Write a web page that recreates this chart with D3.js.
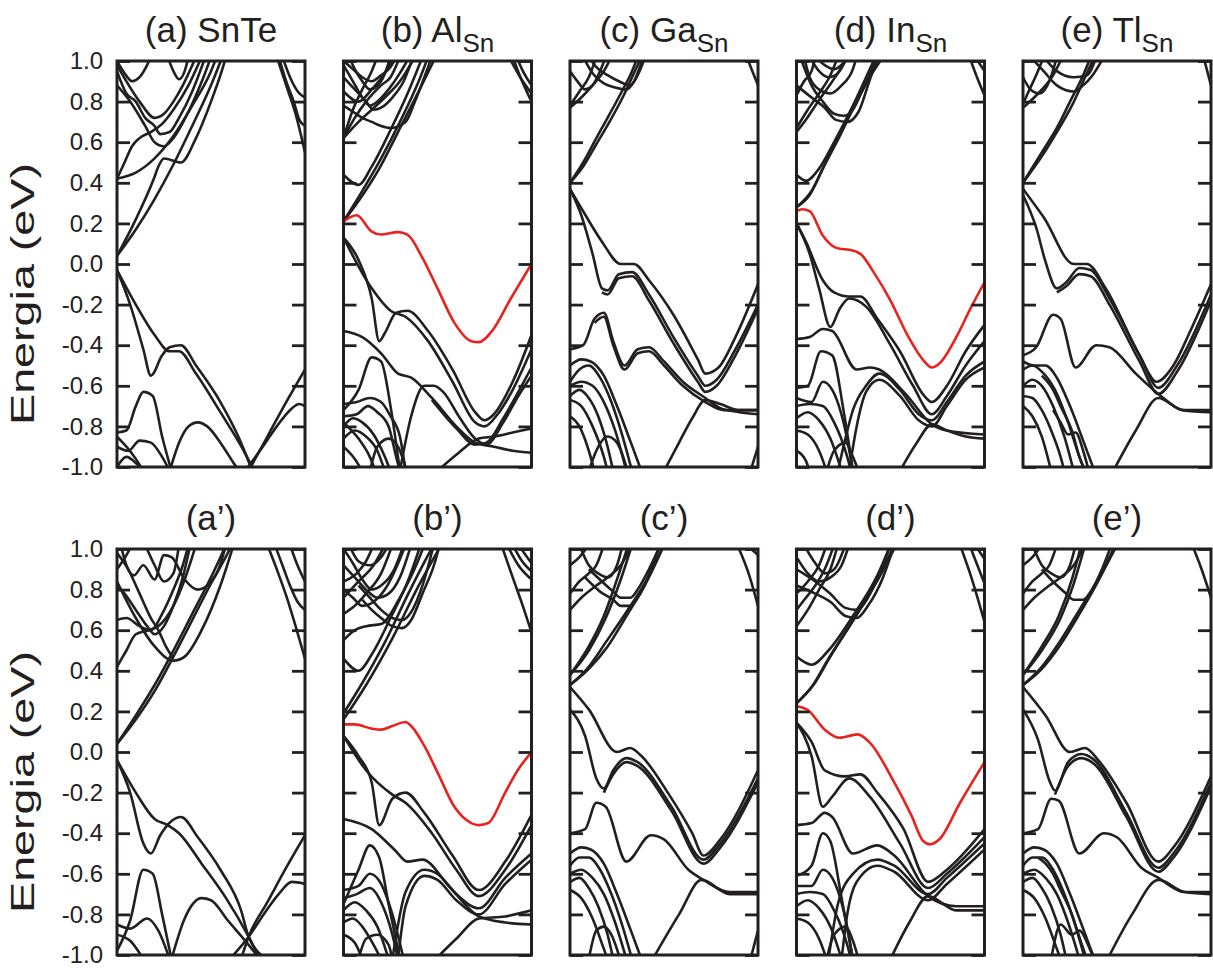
<!DOCTYPE html>
<html>
<head>
<meta charset="utf-8">
<script src="https://cdn.jsdelivr.net/npm/d3@7/dist/d3.min.js"></script>
<style>
  body { margin: 0; background: #fff; }
  text { font-family: "Liberation Sans", Arial, Helvetica, sans-serif; fill: #231f20; }
</style>
</head>
<body>
<div id="viz"></div>
<script>
// energy axis
const yTicks = [-1, -0.8, -0.6, -0.4, -0.2, 0, 0.2, 0.4, 0.6, 0.8, 1];
const yTickLabels = ['-1.0', '-0.8', '-0.6', '-0.4', '-0.2', '0.0', '0.2', '0.4', '0.6', '0.8', '1.0'];
const yLabel = 'Energia (eV)';

const titles = ['(a) ', '(b) ', '(c) ', '(d) ', '(e) ', '(a\u2019)', '(b\u2019)', '(c\u2019)', '(d\u2019)', '(e\u2019)'];
const titleMain = ['SnTe', 'Al', 'Ga', 'In', 'Tl', '', '', '', '', ''];
const titleSub = ['', 'Sn', 'Sn', 'Sn', 'Sn', '', '', '', '', ''];

// bands: each band is a list of [k, E] (k from 0 to 1 along the path, E in eV)
const bandsA = [
  [[0,0.04],[0.1,0.22],[0.2,0.43],[0.22,0.48],[0.25,0.52],[0.34,0.5],[0.42,0.62],[0.5,0.8],[0.55,0.93],[0.58,1.02]],
  [[0,0.04],[0.1,0.17],[0.2,0.32],[0.3,0.49],[0.4,0.68],[0.5,0.88],[0.56,1.02]],
  [[0,0.42],[0.1,0.45],[0.2,0.52],[0.3,0.63],[0.4,0.78],[0.5,0.95],[0.53,1.02]],
  [[0,0.42],[0.04,0.5],[0.08,0.58],[0.12,0.62],[0.18,0.65],[0.24,0.69],[0.3,0.76],[0.38,0.88],[0.45,1.02]],
  [[0,0.98],[0.05,0.9],[0.12,0.8],[0.2,0.72],[0.25,0.74],[0.3,0.8],[0.35,0.88],[0.42,1.02]],
  [[0,0.88],[0.07,0.8],[0.15,0.68],[0.2,0.6],[0.25,0.58],[0.3,0.62],[0.38,0.75],[0.46,0.92],[0.5,1.02]],
  [[0,0.95],[0.05,0.84],[0.1,0.8],[0.15,0.72],[0.2,0.68],[0.23,0.64],[0.28,0.65],[0.33,0.72],[0.4,0.85],[0.47,1.02]],
  [[0,1.0],[0.04,0.94],[0.08,0.9],[0.12,0.92],[0.16,0.98],[0.18,1.02]],
  [[0.27,1.02],[0.3,0.95],[0.33,0.91],[0.36,0.95],[0.38,1.02]],
  [[0.85,1.02],[0.9,0.88],[0.95,0.74],[1,0.55]],
  [[0.86,1.02],[0.9,0.9],[0.94,0.8],[0.97,0.71],[1,0.68]],
  [[0.88,1.02],[0.93,0.9],[0.97,0.84],[1,0.82]],
  [[0,-0.03],[0.07,-0.2],[0.14,-0.42],[0.18,-0.55],[0.24,-0.45],[0.28,-0.41],[0.34,-0.4],[0.42,-0.5],[0.55,-0.68],[0.65,-0.86],[0.72,-1.02]],
  [[0,-0.03],[0.1,-0.2],[0.2,-0.35],[0.28,-0.43],[0.33,-0.43],[0.42,-0.54],[0.55,-0.73],[0.68,-0.93],[0.73,-1.02]],
  [[0.7,-1.02],[0.8,-0.85],[0.9,-0.68],[1,-0.52]],
  [[0.68,-1.02],[0.76,-0.92],[0.85,-0.8],[0.92,-0.72],[0.97,-0.69],[1,-0.7]],
  [[0.28,-1.02],[0.33,-0.88],[0.38,-0.8],[0.43,-0.78],[0.48,-0.8],[0.55,-0.88],[0.62,-0.98],[0.65,-1.02]],
  [[0,-0.83],[0.05,-0.82],[0.1,-0.7],[0.14,-0.63],[0.19,-0.65],[0.24,-0.85],[0.29,-1.02]],
  [[0,-0.9],[0.06,-0.92],[0.12,-0.87],[0.18,-0.88],[0.24,-0.95],[0.28,-1.02]],
  [[0,-1.0],[0.05,-0.95],[0.1,-0.98],[0.14,-1.02]],
  [[0,-0.85],[0.05,-0.9],[0.1,-0.96],[0.14,-1.02]]
];

const bandsB = [
  [[0,0.21],[0.08,0.31],[0.19,0.47],[0.29,0.65],[0.4,0.85],[0.49,1.02]],
  [[0,0.21],[0.1,0.36],[0.2,0.52],[0.3,0.7],[0.4,0.9],[0.45,1.02]],
  [[0,0.44],[0.08,0.39],[0.15,0.48],[0.25,0.66],[0.35,0.86],[0.42,1.02]],
  [[0,0.62],[0.08,0.7],[0.15,0.76],[0.22,0.82],[0.3,0.9],[0.38,1.02]],
  [[0,0.62],[0.06,0.72],[0.12,0.8],[0.2,0.88],[0.25,0.92],[0.3,1.02]],
  [[0,0.62],[0.05,0.76],[0.1,0.86],[0.15,0.95],[0.18,1.02]],
  [[0,0.98],[0.05,0.9],[0.1,0.82],[0.14,0.78],[0.18,0.8],[0.24,0.86],[0.3,0.94],[0.35,1.02]],
  [[0,0.92],[0.06,0.86],[0.12,0.8],[0.16,0.76],[0.2,0.77],[0.26,0.82],[0.32,0.9],[0.37,1.02]],
  [[0,0.78],[0.05,0.75],[0.1,0.72],[0.15,0.7],[0.2,0.68],[0.25,0.67],[0.33,0.7],[0.38,0.8],[0.43,0.92],[0.47,1.02]],
  [[0,1.0],[0.05,0.96],[0.1,0.92],[0.15,0.9],[0.2,0.93],[0.25,0.97],[0.28,1.02]],
  [[0,0.85],[0.08,0.8],[0.15,0.86],[0.22,0.94],[0.27,1.02]],
  [[0.03,1.02],[0.06,0.96],[0.1,0.9],[0.14,0.86],[0.2,0.9],[0.25,1.02]],
  [[0.9,1.02],[0.95,0.9],[1,0.8]],
  [[0.92,1.02],[0.96,0.94],[1,0.88]],
  [[0.88,1.02],[0.94,0.92],[1,0.84]],
  [[0,0.13],[0.08,0.02],[0.15,-0.17],[0.19,-0.38],[0.22,-0.34],[0.28,-0.24],[0.34,-0.23],[0.45,-0.33],[0.58,-0.52],[0.7,-0.73],[0.75,-0.77],[0.8,-0.74],[0.9,-0.58],[1,-0.35]],
  [[0,0.13],[0.15,-0.12],[0.25,-0.23],[0.33,-0.26],[0.45,-0.38],[0.58,-0.58],[0.7,-0.78],[0.75,-0.8],[0.82,-0.74],[0.9,-0.62],[1,-0.42]],
  [[0,-0.33],[0.1,-0.36],[0.2,-0.44],[0.29,-0.54],[0.36,-0.56],[0.47,-0.66],[0.6,-0.8],[0.7,-0.88],[0.8,-0.9],[0.9,-0.92],[1,-0.93]],
  [[0.47,-0.67],[0.6,-0.81],[0.7,-0.89],[0.76,-0.88],[0.85,-0.76],[0.93,-0.63],[1,-0.51]],
  [[0.3,-1.02],[0.36,-0.75],[0.43,-0.6],[0.48,-0.6],[0.53,-0.63],[0.62,-0.76],[0.7,-0.86],[0.76,-0.89],[0.85,-0.78],[0.93,-0.65],[1,-0.55]],
  [[0.5,-1.02],[0.6,-0.94],[0.72,-0.86],[0.8,-0.85],[0.9,-0.83],[1,-0.81]],
  [[0,-0.72],[0.08,-0.62],[0.15,-0.46],[0.2,-0.48],[0.25,-0.7],[0.3,-1.02]],
  [[0,-0.69],[0.07,-0.68],[0.14,-0.66],[0.2,-0.68],[0.25,-0.75],[0.3,-0.85],[0.33,-1.02]],
  [[0,-0.75],[0.07,-0.74],[0.13,-0.7],[0.18,-0.73],[0.24,-0.8],[0.28,-0.95],[0.3,-1.02]],
  [[0,-0.8],[0.05,-0.76],[0.1,-0.78],[0.16,-0.84],[0.22,-0.95],[0.25,-1.02]],
  [[0,-0.86],[0.06,-0.82],[0.12,-0.85],[0.18,-0.92],[0.22,-1.02]],
  [[0,-0.9],[0.06,-0.96],[0.1,-1.02]],
  [[0,-0.78],[0.08,-0.86],[0.14,-0.95],[0.17,-1.02]],
  [[0.14,-1.02],[0.18,-0.9],[0.24,-0.86],[0.29,-0.9],[0.33,-1.0]]
];
const redB = [[0,0.21],[0.07,0.24],[0.15,0.16],[0.2,0.145],[0.29,0.157],[0.34,0.145],[0.42,0.03],[0.5,-0.12],[0.59,-0.29],[0.68,-0.38],[0.72,-0.385],[0.79,-0.33],[0.89,-0.17],[1,0]];

const bandsC = [
  [[0,0.4],[0.07,0.5],[0.14,0.62],[0.2,0.72],[0.27,0.84],[0.33,0.95],[0.36,1.02]],
  [[0,0.4],[0.07,0.48],[0.14,0.59],[0.21,0.7],[0.28,0.82],[0.34,0.94],[0.38,1.02]],
  [[0,0.77],[0.06,0.82],[0.12,0.88],[0.18,0.95],[0.22,1.02]],
  [[0,0.78],[0.05,0.85],[0.1,0.92],[0.14,1.02]],
  [[0.07,1.02],[0.12,0.94],[0.18,0.89],[0.24,0.87],[0.3,0.86],[0.34,0.9],[0.39,1.02]],
  [[0.1,1.02],[0.14,0.97],[0.2,0.93],[0.26,0.9],[0.32,0.88],[0.36,0.93],[0.4,1.02]],
  [[0,0.95],[0.04,0.9],[0.08,0.86],[0.12,0.88],[0.16,0.95],[0.19,1.02]],
  [[0.94,1.02],[0.97,0.95],[1,0.88]],
  [[0,0.37],[0.07,0.26],[0.17,0.11],[0.27,0],[0.34,0],[0.42,-0.08],[0.55,-0.25],[0.68,-0.47],[0.72,-0.54],[0.79,-0.51],[0.88,-0.36],[1,-0.1]],
  [[0,0.37],[0.06,0.24],[0.12,0.05],[0.17,-0.12],[0.2,-0.13],[0.26,-0.05],[0.33,-0.04],[0.42,-0.15],[0.55,-0.36],[0.68,-0.55],[0.72,-0.6],[0.78,-0.57],[0.88,-0.42],[1,-0.2]],
  [[0.17,-0.14],[0.2,-0.15],[0.26,-0.07],[0.33,-0.06],[0.42,-0.18],[0.55,-0.39],[0.68,-0.58],[0.72,-0.63],[0.78,-0.6],[0.88,-0.45],[1,-0.22]],
  [[0,-0.42],[0.07,-0.4],[0.13,-0.27],[0.18,-0.24],[0.23,-0.38],[0.29,-0.5],[0.36,-0.42],[0.42,-0.41],[0.5,-0.48],[0.6,-0.58],[0.72,-0.66],[0.8,-0.71],[0.9,-0.73],[1,-0.74]],
  [[0.13,-0.29],[0.18,-0.26],[0.23,-0.4],[0.29,-0.52],[0.36,-0.44],[0.42,-0.43],[0.5,-0.5],[0.6,-0.6],[0.72,-0.68],[0.82,-0.72],[1,-0.72]],
  [[0.5,-1.02],[0.58,-0.88],[0.65,-0.76],[0.72,-0.67],[0.8,-0.69],[0.9,-0.72],[1,-0.72]],
  [[0,-0.5],[0.06,-0.47],[0.11,-0.48],[0.18,-0.55],[0.25,-0.7],[0.32,-0.87],[0.38,-1.02]],
  [[0,-0.58],[0.05,-0.52],[0.1,-0.5],[0.16,-0.56],[0.22,-0.68],[0.28,-0.85],[0.33,-1.02]],
  [[0,-0.6],[0.06,-0.58],[0.12,-0.6],[0.18,-0.68],[0.24,-0.82],[0.3,-1.02]],
  [[0,-0.65],[0.05,-0.62],[0.1,-0.66],[0.15,-0.75],[0.2,-0.9],[0.23,-1.02]],
  [[0,-0.67],[0.06,-0.7],[0.12,-0.8],[0.18,-0.95],[0.2,-1.02]],
  [[0,-0.75],[0.05,-0.8],[0.1,-0.92],[0.13,-1.02]],
  [[0.1,-1.02],[0.14,-0.92],[0.2,-0.85],[0.25,-0.88],[0.3,-1.0]],
  [[0.96,-1.02],[1,-0.9]]
];

const bandsD = [
  [[0,0.28],[0.07,0.34],[0.14,0.47],[0.23,0.63],[0.32,0.8],[0.41,0.95],[0.46,1.02]],
  [[0,0.28],[0.08,0.36],[0.15,0.49],[0.24,0.66],[0.33,0.82],[0.44,1.02]],
  [[0,0.44],[0.05,0.41],[0.12,0.47],[0.2,0.6],[0.3,0.78],[0.4,0.98],[0.42,1.02]],
  [[0.02,1.02],[0.08,0.88],[0.14,0.8],[0.2,0.74],[0.25,0.73],[0.3,0.76],[0.36,0.88],[0.42,1.02]],
  [[0,0.88],[0.08,0.82],[0.15,0.77],[0.21,0.71],[0.27,0.7],[0.33,0.75],[0.38,0.88],[0.43,1.02]],
  [[0,0.65],[0.05,0.71],[0.1,0.78],[0.16,0.86],[0.22,0.94],[0.27,1.02]],
  [[0,0.67],[0.06,0.76],[0.12,0.84],[0.18,0.93],[0.22,1.02]],
  [[0,0.83],[0.04,0.9],[0.08,0.95],[0.1,1.02]],
  [[0.04,1.02],[0.07,0.92],[0.12,0.86],[0.18,0.84],[0.24,0.88],[0.3,0.96],[0.32,1.02]],
  [[0.07,1.02],[0.12,0.95],[0.17,0.92],[0.22,0.94],[0.27,1.02]],
  [[0.1,1.02],[0.15,0.98],[0.2,0.96],[0.26,1.0]],
  [[0.92,1.02],[0.96,0.92],[1,0.83]],
  [[0.95,1.02],[1,0.95]],
  [[0,0.2],[0.05,0.11],[0.14,-0.08],[0.2,-0.14],[0.28,-0.16],[0.34,-0.16],[0.43,-0.27],[0.55,-0.43],[0.68,-0.65],[0.72,-0.68],[0.8,-0.6],[0.9,-0.43],[1,-0.3]],
  [[0,0.2],[0.07,0.05],[0.12,-0.12],[0.18,-0.31],[0.23,-0.22],[0.28,-0.17],[0.37,-0.21],[0.5,-0.4],[0.62,-0.6],[0.72,-0.74],[0.8,-0.65],[0.9,-0.5],[1,-0.38]],
  [[0,-0.37],[0.07,-0.36],[0.14,-0.32],[0.19,-0.33],[0.32,-0.52],[0.39,-0.51],[0.44,-0.52],[0.58,-0.64],[0.72,-0.79],[0.8,-0.82],[1,-0.84]],
  [[0.22,-1.02],[0.26,-0.86],[0.3,-0.72],[0.37,-0.6],[0.44,-0.54],[0.55,-0.62],[0.65,-0.74],[0.72,-0.77],[0.8,-0.68],[0.9,-0.55],[1,-0.48]],
  [[0.28,-1.02],[0.32,-0.8],[0.37,-0.63],[0.44,-0.57],[0.55,-0.65],[0.65,-0.77],[0.72,-0.8],[0.8,-0.7],[0.9,-0.57],[1,-0.51]],
  [[0.55,-1.02],[0.64,-0.88],[0.72,-0.79],[0.8,-0.82],[0.9,-0.85],[1,-0.86]],
  [[0,-0.61],[0.06,-0.6],[0.13,-0.43],[0.19,-0.45],[0.25,-0.72],[0.3,-1.02]],
  [[0,-0.66],[0.08,-0.68],[0.14,-0.58],[0.19,-0.62],[0.26,-0.82],[0.3,-1.02]],
  [[0,-0.7],[0.07,-0.69],[0.14,-0.7],[0.2,-0.78],[0.27,-0.95],[0.29,-1.02]],
  [[0,-0.76],[0.06,-0.73],[0.12,-0.77],[0.18,-0.86],[0.24,-1.02]],
  [[0,-0.82],[0.06,-0.84],[0.12,-0.92],[0.16,-1.02]],
  [[0,-0.92],[0.05,-0.97],[0.07,-1.02]],
  [[0.16,-1.02],[0.2,-0.92],[0.26,-0.88],[0.3,-0.95],[0.33,-1.02]]
];
const redD = [[0,0.26],[0.03,0.27],[0.07,0.26],[0.14,0.14],[0.19,0.09],[0.23,0.075],[0.28,0.07],[0.34,0.05],[0.41,-0.04],[0.5,-0.18],[0.59,-0.35],[0.68,-0.48],[0.72,-0.51],[0.76,-0.49],[0.85,-0.36],[0.925,-0.22],[1,-0.09]];

const bandsE = [
  [[0,0.4],[0.1,0.55],[0.18,0.67],[0.25,0.8],[0.32,0.93],[0.36,1.02]],
  [[0,0.4],[0.1,0.53],[0.18,0.65],[0.26,0.78],[0.33,0.92],[0.38,1.02]],
  [[0,0.77],[0.07,0.83],[0.16,0.93],[0.21,1.02]],
  [[0,0.79],[0.04,0.87],[0.07,0.93],[0.11,1.02]],
  [[0.04,1.02],[0.11,0.95],[0.18,0.88],[0.27,0.85],[0.32,0.88],[0.37,0.93],[0.43,1.02]],
  [[0.11,1.02],[0.18,0.95],[0.27,0.92],[0.34,0.93],[0.39,1.02]],
  [[0,0.92],[0.04,0.86],[0.09,0.84],[0.14,0.9],[0.18,1.02]],
  [[0.96,1.02],[1,0.88]],
  [[0,0.37],[0.11,0.23],[0.27,0],[0.34,0],[0.44,-0.12],[0.62,-0.45],[0.71,-0.58],[0.8,-0.5],[0.89,-0.33],[1,-0.1]],
  [[0,0.34],[0.07,0.18],[0.12,0.01],[0.18,-0.12],[0.23,-0.09],[0.3,-0.02],[0.36,-0.03],[0.46,-0.17],[0.62,-0.45],[0.72,-0.61],[0.82,-0.5],[1,-0.15]],
  [[0.18,-0.14],[0.23,-0.11],[0.3,-0.05],[0.36,-0.06],[0.46,-0.2],[0.62,-0.48],[0.72,-0.64],[0.82,-0.53],[1,-0.18]],
  [[0,-0.45],[0.07,-0.41],[0.16,-0.25],[0.2,-0.27],[0.28,-0.51],[0.39,-0.4],[0.46,-0.41],[0.6,-0.54],[0.72,-0.64],[0.85,-0.72],[1,-0.73]],
  [[0.48,-1.02],[0.6,-0.82],[0.72,-0.66],[0.85,-0.72],[1,-0.72]],
  [[0,-0.48],[0.06,-0.5],[0.12,-0.5],[0.18,-0.56],[0.25,-0.7],[0.32,-0.87],[0.38,-1.02]],
  [[0,-0.52],[0.05,-0.5],[0.1,-0.53],[0.17,-0.62],[0.24,-0.78],[0.3,-0.95],[0.33,-1.02]],
  [[0,-0.6],[0.05,-0.57],[0.1,-0.6],[0.16,-0.7],[0.22,-0.85],[0.27,-1.02]],
  [[0,-0.65],[0.05,-0.66],[0.1,-0.72],[0.15,-0.82],[0.2,-0.95],[0.22,-1.02]],
  [[0,-0.7],[0.05,-0.75],[0.1,-0.85],[0.15,-1.02]],
  [[0.1,-0.55],[0.16,-0.62],[0.2,-0.7],[0.26,-0.82],[0.3,-0.95],[0.33,-1.02]],
  [[0.16,-0.72],[0.2,-0.78],[0.24,-0.84],[0.28,-0.83],[0.32,-0.92],[0.35,-1.02]]
];

const bandsA2 = [
  [[0,0.04],[0.1,0.16],[0.2,0.3],[0.3,0.47],[0.4,0.65],[0.5,0.83],[0.6,1.0],[0.61,1.02]],
  [[0,0.04],[0.1,0.18],[0.2,0.33],[0.3,0.5],[0.4,0.68],[0.5,0.86],[0.58,1.02]],
  [[0,0.84],[0.1,0.66],[0.2,0.52],[0.3,0.45],[0.36,0.47],[0.45,0.6],[0.55,0.82],[0.62,1.02]],
  [[0,0.42],[0.05,0.5],[0.1,0.58],[0.17,0.6],[0.22,0.62],[0.3,0.72],[0.36,0.85],[0.42,1.02]],
  [[0,0.65],[0.05,0.66],[0.12,0.62],[0.18,0.6],[0.24,0.68],[0.3,0.8],[0.35,0.92],[0.38,1.02]],
  [[0.02,1.02],[0.05,0.92],[0.09,0.87],[0.14,0.92],[0.2,0.85],[0.25,0.97],[0.29,0.96],[0.36,0.85],[0.43,0.8],[0.48,0.82],[0.54,0.9],[0.58,1.02]],
  [[0,0.82],[0.04,0.78],[0.1,0.7],[0.16,0.62],[0.2,0.58],[0.25,0.62],[0.3,0.72],[0.35,0.86],[0.39,1.02]],
  [[0,0.98],[0.06,0.9],[0.12,0.78],[0.18,0.66],[0.22,0.6],[0.26,0.52],[0.3,0.46]],
  [[0,0.9],[0.05,0.97],[0.08,1.02]],
  [[0.15,1.02],[0.2,0.92],[0.25,0.84],[0.3,0.88],[0.33,1.02]],
  [[0.8,1.02],[0.85,0.9],[0.9,0.77],[0.95,0.62],[1,0.46]],
  [[0.84,1.02],[0.88,0.92],[0.92,0.82],[0.96,0.74],[1,0.7]],
  [[0.92,1.02],[0.96,0.92],[1,0.84]],
  [[0,-0.04],[0.07,-0.2],[0.14,-0.45],[0.18,-0.5],[0.23,-0.41],[0.29,-0.34],[0.34,-0.32],[0.43,-0.42],[0.55,-0.58],[0.66,-0.78],[0.7,-0.91],[0.8,-1.02]],
  [[0,-0.04],[0.1,-0.2],[0.2,-0.33],[0.27,-0.36],[0.33,-0.4],[0.45,-0.55],[0.58,-0.72],[0.7,-0.91],[0.76,-1.02]],
  [[0.66,-1.02],[0.7,-0.91],[0.8,-0.74],[0.9,-0.57],[1,-0.41]],
  [[0.6,-1.02],[0.7,-0.91],[0.78,-0.8],[0.86,-0.7],[0.93,-0.64],[1,-0.65]],
  [[0.29,-1.02],[0.36,-0.82],[0.45,-0.72],[0.5,-0.73],[0.59,-0.83],[0.7,-0.95],[0.76,-1.02]],
  [[0,-0.98],[0.07,-0.83],[0.14,-0.58],[0.19,-0.6],[0.24,-0.8],[0.29,-1.02]],
  [[0,-0.85],[0.07,-0.87],[0.16,-0.82],[0.22,-0.88],[0.28,-1.02]],
  [[0,-0.9],[0.07,-0.93],[0.14,-1.02]]
];

const bandsB2 = [
  [[0,0.16],[0.12,0.33],[0.26,0.56],[0.4,0.82],[0.52,1.02]],
  [[0,0.19],[0.1,0.34],[0.22,0.54],[0.35,0.79],[0.45,0.97],[0.48,1.02]],
  [[0,0.46],[0.08,0.4],[0.15,0.48],[0.25,0.66],[0.35,0.86],[0.41,1.02]],
  [[0,0.55],[0.06,0.6],[0.12,0.62],[0.2,0.63],[0.3,0.76],[0.4,0.95],[0.43,1.02]],
  [[0.1,0.75],[0.15,0.7],[0.2,0.66],[0.26,0.62],[0.31,0.61],[0.36,0.65],[0.42,0.78],[0.5,0.98],[0.51,1.02]],
  [[0.08,0.82],[0.14,0.76],[0.2,0.7],[0.26,0.66],[0.31,0.65],[0.36,0.69],[0.42,0.82],[0.48,1.02]],
  [[0,1.0],[0.05,0.93],[0.1,0.85],[0.15,0.8],[0.2,0.82],[0.27,0.9],[0.32,1.02]],
  [[0,0.92],[0.06,0.86],[0.12,0.8],[0.18,0.76],[0.24,0.78],[0.3,0.86],[0.36,1.02]],
  [[0,0.84],[0.07,0.88],[0.12,0.94],[0.16,1.02]],
  [[0,0.8],[0.05,0.76],[0.1,0.72],[0.16,0.74],[0.22,0.8],[0.3,0.95],[0.33,1.02]],
  [[0,0.76],[0.08,0.84],[0.16,0.92],[0.22,1.02]],
  [[0.03,1.02],[0.08,0.94],[0.14,0.92],[0.2,0.96],[0.24,1.02]],
  [[0,0.68],[0.06,0.72],[0.12,0.78],[0.2,0.88],[0.26,1.02]],
  [[0.84,1.02],[0.9,0.86],[0.95,0.73],[1,0.59]],
  [[0.87,1.02],[0.93,0.92],[1,0.85]],
  [[0.9,1.02],[0.95,0.94],[1,0.89]],
  [[0.93,1.02],[1,0.93]],
  [[0,0.08],[0.08,-0.02],[0.15,-0.15],[0.19,-0.36],[0.26,-0.23],[0.33,-0.2],[0.43,-0.3],[0.58,-0.51],[0.72,-0.68],[0.86,-0.54],[1,-0.31]],
  [[0,0.08],[0.12,-0.09],[0.26,-0.21],[0.33,-0.25],[0.47,-0.4],[0.6,-0.58],[0.72,-0.71],[0.86,-0.58],[1,-0.36]],
  [[0,-0.33],[0.15,-0.38],[0.27,-0.48],[0.34,-0.54],[0.42,-0.53],[0.56,-0.66],[0.72,-0.81],[0.86,-0.84],[1,-0.85]],
  [[0.26,-1.02],[0.33,-0.69],[0.43,-0.58],[0.5,-0.6],[0.6,-0.7],[0.72,-0.77],[0.86,-0.62],[1,-0.5]],
  [[0.29,-1.02],[0.33,-0.76],[0.43,-0.61],[0.5,-0.63],[0.6,-0.73],[0.72,-0.8],[0.86,-0.65],[1,-0.53]],
  [[0.49,-1.02],[0.6,-0.92],[0.72,-0.82],[0.86,-0.81],[1,-0.78]],
  [[0,-0.75],[0.08,-0.58],[0.14,-0.46],[0.19,-0.52],[0.24,-0.75],[0.3,-1.02]],
  [[0,-0.68],[0.08,-0.66],[0.14,-0.6],[0.2,-0.65],[0.26,-0.8],[0.32,-1.02]],
  [[0,-0.72],[0.07,-0.7],[0.14,-0.67],[0.2,-0.74],[0.26,-0.9],[0.29,-1.02]],
  [[0,-0.78],[0.06,-0.74],[0.12,-0.78],[0.18,-0.86],[0.24,-1.02]],
  [[0,-0.84],[0.05,-0.82],[0.1,-0.86],[0.16,-0.95],[0.2,-1.02]],
  [[0,-0.9],[0.06,-0.94],[0.1,-1.02]],
  [[0.08,-1.02],[0.12,-0.92],[0.18,-0.9],[0.24,-0.95],[0.26,-1.02]]
];
const redB2 = [[0,0.136],[0.06,0.136],[0.15,0.115],[0.2,0.11],[0.26,0.128],[0.33,0.148],[0.36,0.128],[0.43,0.03],[0.5,-0.1],[0.59,-0.27],[0.68,-0.35],[0.72,-0.36],[0.77,-0.35],[0.86,-0.2],[0.93,-0.085],[1,0]];

const bandsC2 = [
  [[0,0.33],[0.1,0.42],[0.19,0.54],[0.3,0.69],[0.41,0.85],[0.5,1.02]],
  [[0,0.33],[0.1,0.41],[0.2,0.52],[0.3,0.67],[0.4,0.83],[0.48,1.02]],
  [[0,0.38],[0.1,0.5],[0.19,0.66],[0.27,0.85],[0.33,1.02]],
  [[0,0.38],[0.1,0.52],[0.18,0.67],[0.25,0.85],[0.31,1.02]],
  [[0.1,0.9],[0.17,0.84],[0.23,0.79],[0.27,0.76],[0.32,0.76],[0.36,0.8],[0.42,0.9],[0.48,1.02]],
  [[0.08,0.86],[0.16,0.79],[0.23,0.75],[0.27,0.72],[0.32,0.72],[0.36,0.76],[0.43,0.88],[0.5,1.02]],
  [[0,0.7],[0.06,0.76],[0.14,0.82],[0.2,0.86],[0.27,0.92],[0.33,1.02]],
  [[0,0.78],[0.05,0.84],[0.1,0.88],[0.14,0.92],[0.18,1.02]],
  [[0.05,1.02],[0.1,0.92],[0.15,0.88],[0.2,0.86],[0.25,0.92],[0.28,1.02]],
  [[0,0.92],[0.05,0.96],[0.1,1.02]],
  [[0.89,1.02],[0.95,0.88],[1,0.72]],
  [[0.94,1.02],[1,0.97]],
  [[0,0.32],[0.1,0.21],[0.25,0],[0.32,0.02],[0.38,-0.02],[0.52,-0.2],[0.65,-0.4],[0.71,-0.51],[0.8,-0.43],[1,-0.09]],
  [[0,0.21],[0.08,0.08],[0.14,-0.13],[0.18,-0.18],[0.23,-0.09],[0.3,-0.03],[0.36,-0.05],[0.54,-0.27],[0.71,-0.53],[0.8,-0.45],[1,-0.13]],
  [[0.18,-0.2],[0.23,-0.11],[0.3,-0.05],[0.36,-0.07],[0.54,-0.29],[0.71,-0.55],[0.8,-0.47],[1,-0.15]],
  [[0,-0.4],[0.08,-0.38],[0.14,-0.25],[0.19,-0.27],[0.3,-0.54],[0.43,-0.41],[0.5,-0.43],[0.63,-0.58],[0.71,-0.63],[0.85,-0.69],[1,-0.69]],
  [[0.44,-1.02],[0.58,-0.8],[0.7,-0.63],[0.85,-0.7],[1,-0.7]],
  [[0,-0.5],[0.06,-0.47],[0.11,-0.48],[0.18,-0.55],[0.25,-0.7],[0.32,-0.87],[0.38,-1.02]],
  [[0,-0.56],[0.05,-0.52],[0.1,-0.52],[0.16,-0.58],[0.22,-0.7],[0.28,-0.86],[0.33,-1.02]],
  [[0,-0.6],[0.06,-0.58],[0.12,-0.62],[0.18,-0.7],[0.24,-0.84],[0.3,-1.02]],
  [[0,-0.64],[0.05,-0.62],[0.1,-0.67],[0.15,-0.76],[0.2,-0.9],[0.23,-1.02]],
  [[0,-0.68],[0.06,-0.72],[0.12,-0.82],[0.18,-0.97],[0.2,-1.02]],
  [[0.1,-1.02],[0.14,-0.88],[0.18,-0.86],[0.22,-0.9],[0.26,-1.0]],
  [[0.96,-1.02],[1,-0.88]]
];

const bandsD2 = [
  [[0,0.24],[0.08,0.32],[0.17,0.46],[0.3,0.65],[0.43,0.85],[0.52,1.02]],
  [[0,0.24],[0.09,0.33],[0.18,0.47],[0.31,0.66],[0.44,0.86],[0.53,1.02]],
  [[0,0.47],[0.08,0.43],[0.17,0.5],[0.3,0.67],[0.43,0.87],[0.5,1.02]],
  [[0,0.9],[0.1,0.84],[0.18,0.78],[0.26,0.71],[0.32,0.7],[0.38,0.76],[0.44,0.88],[0.5,1.02]],
  [[0,0.82],[0.1,0.78],[0.18,0.74],[0.26,0.67],[0.32,0.66],[0.38,0.72],[0.46,0.86],[0.52,1.02]],
  [[0,0.78],[0.06,0.84],[0.12,0.92],[0.16,1.02]],
  [[0,0.7],[0.05,0.76],[0.1,0.82],[0.15,0.9],[0.2,1.02]],
  [[0,0.96],[0.06,0.88],[0.12,0.84],[0.18,0.86],[0.24,0.92],[0.28,1.02]],
  [[0,0.62],[0.06,0.7],[0.12,0.8],[0.18,0.9],[0.22,1.02]],
  [[0.04,1.02],[0.1,0.93],[0.15,0.88],[0.2,0.9],[0.26,1.02]],
  [[0.87,1.02],[0.93,0.86],[1,0.64]],
  [[0.92,1.02],[1,0.83]],
  [[0.95,1.02],[1,0.95]],
  [[0,0.145],[0.08,0.05],[0.15,-0.09],[0.26,-0.12],[0.34,-0.11],[0.43,-0.2],[0.57,-0.38],[0.7,-0.64],[0.8,-0.58],[1,-0.38]],
  [[0,0.145],[0.08,-0.02],[0.14,-0.27],[0.19,-0.22],[0.28,-0.13],[0.39,-0.22],[0.55,-0.45],[0.7,-0.67],[0.8,-0.6],[1,-0.42]],
  [[0,-0.36],[0.08,-0.35],[0.15,-0.3],[0.19,-0.32],[0.3,-0.5],[0.43,-0.46],[0.52,-0.51],[0.7,-0.71],[0.85,-0.76],[1,-0.76]],
  [[0.17,-1.02],[0.22,-0.75],[0.3,-0.6],[0.43,-0.53],[0.52,-0.56],[0.7,-0.7],[0.8,-0.62],[1,-0.45]],
  [[0.24,-1.02],[0.27,-0.8],[0.32,-0.64],[0.43,-0.56],[0.52,-0.59],[0.7,-0.73],[0.8,-0.65],[1,-0.48]],
  [[0.5,-1.02],[0.6,-0.84],[0.7,-0.71],[0.85,-0.78],[1,-0.78]],
  [[0,-0.61],[0.08,-0.56],[0.14,-0.4],[0.18,-0.44],[0.24,-0.72],[0.3,-1.02]],
  [[0,-0.66],[0.08,-0.66],[0.14,-0.58],[0.19,-0.62],[0.26,-0.82],[0.3,-1.02]],
  [[0,-0.7],[0.07,-0.69],[0.14,-0.7],[0.2,-0.78],[0.27,-0.95],[0.29,-1.02]],
  [[0,-0.76],[0.06,-0.73],[0.12,-0.77],[0.18,-0.86],[0.24,-1.02]],
  [[0,-0.82],[0.06,-0.84],[0.12,-0.92],[0.16,-1.02]],
  [[0.16,-1.02],[0.2,-0.9],[0.26,-0.86],[0.3,-0.93],[0.33,-1.02]]
];
const redD2 = [[0,0.225],[0.06,0.207],[0.15,0.11],[0.23,0.07],[0.325,0.087],[0.39,0.046],[0.52,-0.15],[0.61,-0.31],[0.675,-0.44],[0.71,-0.455],[0.76,-0.43],[0.87,-0.25],[1,-0.05]];

const bandsE2 = [
  [[0,0.33],[0.1,0.42],[0.2,0.55],[0.3,0.7],[0.42,0.88],[0.5,1.02]],
  [[0,0.33],[0.1,0.41],[0.2,0.53],[0.3,0.68],[0.41,0.86],[0.49,1.02]],
  [[0,0.38],[0.1,0.52],[0.19,0.67],[0.26,0.85],[0.31,1.02]],
  [[0,0.38],[0.1,0.5],[0.2,0.66],[0.27,0.83],[0.33,1.02]],
  [[0.1,0.9],[0.17,0.83],[0.23,0.78],[0.27,0.75],[0.32,0.75],[0.36,0.79],[0.42,0.9],[0.47,1.02]],
  [[0,0.7],[0.06,0.76],[0.14,0.82],[0.2,0.86],[0.27,0.92],[0.33,1.02]],
  [[0,0.78],[0.05,0.84],[0.1,0.88],[0.14,0.92],[0.18,1.02]],
  [[0.05,1.02],[0.1,0.92],[0.15,0.88],[0.2,0.86],[0.25,0.92],[0.28,1.02]],
  [[0,0.92],[0.05,0.96],[0.1,1.02]],
  [[0.9,1.02],[0.95,0.9],[1,0.76]],
  [[0,0.32],[0.12,0.18],[0.25,0],[0.33,0.02],[0.4,-0.04],[0.55,-0.25],[0.72,-0.54],[0.8,-0.47],[1,-0.12]],
  [[0,0.21],[0.08,0.06],[0.14,-0.14],[0.17,-0.19],[0.24,-0.05],[0.31,-0.01],[0.38,-0.04],[0.55,-0.3],[0.72,-0.57],[0.8,-0.5],[1,-0.15]],
  [[0.17,-0.21],[0.24,-0.07],[0.31,-0.03],[0.38,-0.06],[0.55,-0.32],[0.72,-0.59],[0.8,-0.52],[1,-0.17]],
  [[0,-0.4],[0.08,-0.38],[0.15,-0.23],[0.19,-0.24],[0.3,-0.5],[0.43,-0.4],[0.5,-0.42],[0.63,-0.57],[0.72,-0.62],[0.86,-0.69],[1,-0.69]],
  [[0.45,-1.02],[0.58,-0.8],[0.72,-0.63],[0.86,-0.69],[1,-0.7]],
  [[0,-0.5],[0.06,-0.47],[0.11,-0.48],[0.18,-0.55],[0.25,-0.7],[0.32,-0.87],[0.38,-1.02]],
  [[0,-0.56],[0.05,-0.52],[0.1,-0.52],[0.16,-0.58],[0.22,-0.7],[0.28,-0.86],[0.33,-1.02]],
  [[0,-0.6],[0.06,-0.58],[0.12,-0.62],[0.18,-0.7],[0.24,-0.84],[0.3,-1.02]],
  [[0,-0.64],[0.05,-0.62],[0.1,-0.67],[0.15,-0.76],[0.2,-0.9],[0.23,-1.02]],
  [[0,-0.68],[0.06,-0.72],[0.12,-0.82],[0.18,-0.97],[0.2,-1.02]],
  [[0.08,-0.52],[0.12,-0.55],[0.16,-0.6],[0.2,-0.68],[0.26,-0.8],[0.31,-0.94],[0.34,-1.02]],
  [[0.15,-1.02],[0.2,-0.85],[0.26,-0.9],[0.3,-0.88],[0.36,-0.98],[0.38,-1.02]]
];

const allBands = [bandsA, bandsB, bandsC, bandsD, bandsE, bandsA2, bandsB2, bandsC2, bandsD2, bandsE2];
const allRed = [null, redB, null, redD, null, null, redB2, null, redD2, null];

// layout
const W = 1213, H = 969;
const panelLeft = 117, panelStep = 226.5, panelW = 188, panelH = 406;
const rowTop = [61, 549];
const ink = '#231f20', red = '#e8231f';

const svg = d3.select('#viz').append('svg')
  .attr('width', W)
  .attr('height', H);

allBands.forEach((bands, i) => {
  const col = i % 5, row = Math.floor(i / 5);
  const x0 = panelLeft + col * panelStep, y0 = rowTop[row];

  const x = d3.scaleLinear().domain([0, 1]).range([x0, x0 + panelW]);
  const y = d3.scaleLinear().domain([-1, 1]).range([y0 + panelH, y0]);

  const line = d3.line()
    .x(d => x(d[0]))
    .y(d => y(d[1]))
    .curve(d3.curveMonotoneX);

  svg.append('clipPath').attr('id', 'clip' + i)
    .append('rect')
    .attr('x', x0).attr('y', y0)
    .attr('width', panelW).attr('height', panelH);

  const g = svg.append('g').attr('clip-path', `url(#clip${i})`);

  g.selectAll('path.band')
    .data(bands)
    .join('path')
      .attr('class', 'band')
      .attr('d', line)
      .attr('fill', 'none')
      .attr('stroke', ink)
      .attr('stroke-width', 2.6)
      .attr('stroke-linejoin', 'round');

  if (allRed[i]) {
    g.append('path')
      .attr('d', line(allRed[i]))
      .attr('fill', 'none')
      .attr('stroke', red)
      .attr('stroke-width', 2.6);
  }

  // inward ticks on both sides
  const left = svg.append('g')
    .attr('transform', `translate(${x0},0)`)
    .call(d3.axisLeft(y).tickValues(yTicks).tickSizeInner(-13).tickSizeOuter(0).tickPadding(14)
      .tickFormat((d, j) => col === 0 ? yTickLabels[j] : ''));
  const right = svg.append('g')
    .attr('transform', `translate(${x0 + panelW},0)`)
    .call(d3.axisRight(y).tickValues(yTicks).tickSizeInner(-13).tickSizeOuter(0).tickFormat(''));
  [left, right].forEach(ax => {
    ax.select('.domain').remove();
    ax.selectAll('line').attr('stroke', ink).attr('stroke-width', 2.8);
    ax.selectAll('text').attr('font-size', 24).attr('fill', ink)
      .style('font-family', '"Liberation Sans", Arial, sans-serif');
  });

  svg.append('rect')
    .attr('x', x0).attr('y', y0)
    .attr('width', panelW).attr('height', panelH)
    .attr('fill', 'none')
    .attr('stroke', ink)
    .attr('stroke-width', 3);

  // title
  const t = svg.append('text')
    .attr('x', x0 + panelW / 2)
    .attr('y', y0 - 19)
    .attr('text-anchor', 'middle')
    .attr('font-size', 35);
  t.append('tspan').text(titles[i] + titleMain[i]);
  if (titleSub[i]) {
    t.append('tspan').attr('font-size', 26).attr('dy', 10).text(titleSub[i]);
  }

  if (col === 0) {
    svg.append('text')
      .attr('transform', `translate(34,${y0 + 233}) rotate(-90)`)
      .attr('text-anchor', 'middle')
      .attr('font-size', 34)
      .attr('textLength', 262)
      .attr('lengthAdjust', 'spacingAndGlyphs')
      .text(yLabel);
  }
});
</script>
</body>
</html>
